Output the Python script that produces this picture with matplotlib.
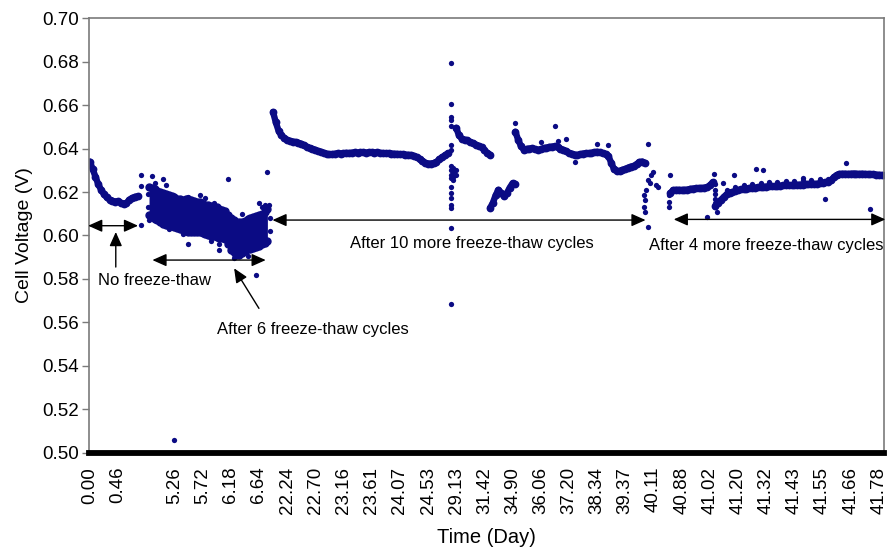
import numpy as np
import matplotlib
matplotlib.use("Agg")
import matplotlib.pyplot as plt

plt.rcParams["font.family"] = "Liberation Sans"

NAVY = "#0b0b84"

# x axis is a category axis: one position per logged sample, a label every 10th sample
x_labels = ["0.00", "0.46", "", "5.26", "5.72", "6.18", "6.64", "22.24", "22.70",
            "23.16", "23.61", "24.07", "24.53", "29.13", "31.42", "34.90", "36.06",
            "37.20", "38.34", "39.37", "40.11", "40.88", "41.02", "41.20", "41.32",
            "41.43", "41.55", "41.66", "41.78"]

# no freeze-thaw
seg1_start = 0
seg1_v = [0.6340, 0.6305, 0.6270, 0.6235, 0.6210, 0.6190, 0.6175, 0.6165, 0.6160,
          0.6155, 0.6158, 0.6150, 0.6145, 0.6148, 0.6165, 0.6172, 0.6178, 0.6180]

# after 6 cycles: dense noisy band, upper and lower edge of the cloud
seg2_start = 21
seg2_upper = [0.6224, 0.6220, 0.6212, 0.6206, 0.6200, 0.6196, 0.6192, 0.6186, 0.6180,
              0.6176, 0.6170, 0.6166, 0.6162, 0.6166, 0.6168, 0.6164, 0.6158, 0.6156,
              0.6152, 0.6146, 0.6142, 0.6138, 0.6136, 0.6132, 0.6130, 0.6124, 0.6118,
              0.6112, 0.6095, 0.6080, 0.6072, 0.6064, 0.6062, 0.6064, 0.6066, 0.6074,
              0.6080, 0.6084, 0.6090, 0.6096, 0.6100, 0.6108, 0.6120]
seg2_lower = [0.6094, 0.6086, 0.6078, 0.6070, 0.6062, 0.6054, 0.6048, 0.6044, 0.6042,
              0.6040, 0.6034, 0.6028, 0.6024, 0.6020, 0.6018, 0.6016, 0.6016, 0.6018,
              0.6016, 0.6010, 0.6006, 0.6002, 0.5998, 0.5996, 0.5994, 0.5990, 0.5988,
              0.5984, 0.5960, 0.5935, 0.5922, 0.5912, 0.5910, 0.5918, 0.5930, 0.5936,
              0.5940, 0.5944, 0.5948, 0.5952, 0.5960, 0.5966, 0.5975]

# after 10 more cycles
seg3_start = 65
seg3_v = [0.6568, 0.6520, 0.6480, 0.6460, 0.6448, 0.6440, 0.6435, 0.6432, 0.6430,
          0.6426, 0.6422, 0.6415, 0.6408, 0.6402, 0.6398, 0.6394, 0.6388, 0.6385,
          0.6380, 0.6376, 0.6373, 0.6374, 0.6376, 0.6378, 0.6377, 0.6378, 0.6380,
          0.6379, 0.6381, 0.6382, 0.6380, 0.6383, 0.6382, 0.6381, 0.6383, 0.6382,
          0.6381, 0.6383, 0.6380, 0.6379, 0.6378, 0.6378, 0.6377, 0.6376, 0.6375,
          0.6374, 0.6373, 0.6372, 0.6371, 0.6370, 0.6366, 0.6360, 0.6352, 0.6343,
          0.6335, 0.6331, 0.6331, 0.6333, 0.6338, 0.6350, 0.6360, 0.6368, 0.6378]
seg4_start = 130
seg4_v = [0.6495, 0.6460, 0.6445, 0.6440, 0.6438, 0.6430, 0.6424, 0.6418, 0.6412,
          0.6405, 0.6392, 0.6380, 0.6372]
seg5_start = 142
seg5_v = [0.6126, 0.6150, 0.6185, 0.6210, 0.6195, 0.6180, 0.6195, 0.6220, 0.6240, 0.6235]
seg6_start = 151
seg6_v = [0.6477, 0.6440, 0.6410, 0.6395, 0.6398, 0.6400, 0.6401, 0.6396, 0.6393,
          0.6397, 0.6401, 0.6404, 0.6407, 0.6409, 0.6410, 0.6408, 0.6400, 0.6394,
          0.6388, 0.6380, 0.6376, 0.6372, 0.6370, 0.6373, 0.6377, 0.6378, 0.6378,
          0.6380, 0.6383, 0.6385, 0.6382, 0.6378, 0.6375, 0.6365, 0.6335, 0.6305,
          0.6298, 0.6296, 0.6302, 0.6306, 0.6312, 0.6317, 0.6320, 0.6328, 0.6338,
          0.6340, 0.6334]

# after 4 more cycles
seg7_start = 206
seg7_v = [0.6195, 0.6209, 0.6210, 0.6210, 0.6209, 0.6210, 0.6211, 0.6214, 0.6216,
          0.6217, 0.6218, 0.6218, 0.6220, 0.6222, 0.6230, 0.6245]
seg8_start = 222
seg8_v = [0.6135, 0.6150, 0.6165, 0.6178, 0.6190, 0.6196, 0.6200, 0.6204, 0.6208,
          0.6212, 0.6214, 0.6216, 0.6218, 0.6218, 0.6220, 0.6222, 0.6222, 0.6224,
          0.6225, 0.6226, 0.6226, 0.6227, 0.6228, 0.6229, 0.6230, 0.6230, 0.6231,
          0.6232, 0.6232, 0.6233, 0.6234, 0.6234, 0.6235, 0.6236, 0.6237, 0.6237,
          0.6238, 0.6240, 0.6242, 0.6244, 0.6247, 0.6255, 0.6268, 0.6278, 0.6283,
          0.6284, 0.6284, 0.6283, 0.6284, 0.6285, 0.6284, 0.6283, 0.6284, 0.6283,
          0.6282, 0.6281, 0.6282, 0.6280, 0.6279, 0.6278, 0.6276]

# isolated readings (sample position, voltage)
pts_k = [18, 18, 18,
         22, 26, 27, 25, 35, 39, 41, 49, 63, 60, 59, 51, 35, 46, 46, 30, 23, 44, 54,
         61, 62, 56, 43, 28, 33, 20.5, 20.5, 21, 64, 64, 63.5,
         128, 128, 128, 128, 128, 128, 128, 128, 128, 128, 128, 128, 128, 128, 128,
         128, 128, 128, 129, 129, 129, 129, 130, 130,
         151, 160, 166, 165, 169, 180, 184, 172, 198,
         200, 199, 198, 198.6, 201, 201.5, 197.5, 196.6, 197, 196.6, 197, 198,
         205.5, 205.5, 205.5, 206,
         221.4, 228.5, 236.5, 239, 253, 268.5, 219, 261, 277, 224.7, 222.5,
         221.7, 221.7, 221.7, 221.7, 221.7, 221.7,
         226, 229, 232, 235, 238, 241, 244, 247, 250, 253, 256, 259, 262]
pts_v = [0.6280, 0.6228, 0.6050,
         0.6274, 0.6260, 0.6232, 0.6063, 0.6178, 0.6186, 0.6171, 0.6258, 0.6293,
         0.6148, 0.5818, 0.5895, 0.5961, 0.5961, 0.5933, 0.5060, 0.6240, 0.6150,
         0.6100, 0.6130, 0.6140, 0.5905, 0.5975, 0.6030, 0.6005, 0.6190, 0.6130,
         0.6070, 0.6080, 0.6020, 0.6140,
         0.6794, 0.6605, 0.6546, 0.6531, 0.6503, 0.6416, 0.6393, 0.6320, 0.6301,
         0.6278, 0.6263, 0.6224, 0.6194, 0.6171, 0.6140, 0.6125, 0.6033, 0.5685,
         0.6310, 0.6290, 0.6270, 0.6255, 0.6300, 0.6280,
         0.6519, 0.6432, 0.6436, 0.6503, 0.6442, 0.6419, 0.6416, 0.6340, 0.6421,
         0.6293, 0.6278, 0.6255, 0.6240, 0.6232, 0.6224, 0.6210, 0.6186, 0.6163,
         0.6133, 0.6110, 0.6040,
         0.6133, 0.6156, 0.6186, 0.6278,
         0.6283, 0.6277, 0.6306, 0.6301, 0.6266, 0.6332, 0.6087, 0.6166, 0.6120,
         0.6243, 0.6108,
         0.6235, 0.6210, 0.6190, 0.6170, 0.6150, 0.6130,
         0.6210, 0.6222, 0.6234, 0.6238, 0.6242, 0.6245, 0.6248, 0.6249, 0.6252,
         0.6254, 0.6256, 0.6258, 0.6262]

fig, ax = plt.subplots(figsize=(8.91, 5.51), dpi=100)
fig.subplots_adjust(left=0.0999, right=0.9921, top=0.9673, bottom=0.1779)

for start, vals in [(seg1_start, seg1_v), (seg3_start, seg3_v), (seg4_start, seg4_v),
                    (seg5_start, seg5_v), (seg6_start, seg6_v), (seg7_start, seg7_v),
                    (seg8_start, seg8_v)]:
    k = np.arange(start, start + len(vals))
    ax.plot(k, vals, color=NAVY, lw=4.6, marker="o", ms=4.6, solid_capstyle="round",
            solid_joinstyle="round")

k2 = np.arange(seg2_start, seg2_start + len(seg2_upper))
ax.fill_between(k2, seg2_lower, seg2_upper, color=NAVY, lw=0)
ax.plot(k2, seg2_upper, "o", color=NAVY, ms=5)
ax.plot(k2, seg2_lower, "o", color=NAVY, ms=5)

ax.plot(pts_k, pts_v, "o", color=NAVY, ms=3.8, mec="none")

ax.set_ylim(0.50, 0.70)
ax.set_xlim(-0.3, 281.8)
ax.set_yticks(np.arange(0.50, 0.7001, 0.02))
ax.yaxis.set_major_formatter(matplotlib.ticker.FormatStrFormatter("%.2f"))
ax.set_xticks(np.arange(0, 10 * len(x_labels), 10))
ax.set_xticklabels(x_labels, rotation=90)

for side in ["left", "top", "right"]:
    ax.spines[side].set_color("#7a7a7a")
    ax.spines[side].set_linewidth(1.2)
ax.spines["bottom"].set_color("black")
ax.spines["bottom"].set_linewidth(4.2)
ax.tick_params(axis="y", direction="out", length=5, width=1, color="#7a7a7a",
               labelsize=13.5, pad=2)
ax.tick_params(axis="x", length=0, labelsize=13.5, pad=10)

ax.set_ylabel("Cell Voltage (V)", fontsize=14, labelpad=7)
ax.set_xlabel("Time (Day)", fontsize=14.5, labelpad=10)

# spans and labels
dbl = dict(arrowstyle="<|-|>,head_length=0.85,head_width=0.38", color="black", lw=1,
           shrinkA=0, shrinkB=0, mutation_scale=10)
one = dict(arrowstyle="-|>,head_length=0.85,head_width=0.38", color="black", lw=1,
           shrinkA=0, shrinkB=0, mutation_scale=10)

ax.annotate("", xy=(17.1, 0.6045), xytext=(-0.6, 0.6045), arrowprops=dbl,
            annotation_clip=False)
ax.annotate("", xy=(9.2, 0.6016), xytext=(9.2, 0.5855), arrowprops=one)
ax.text(2.9, 0.5795, "No freeze-thaw", fontsize=12, ha="left", va="center")

ax.annotate("", xy=(62.4, 0.5887), xytext=(22.2, 0.5887), arrowprops=dbl)
ax.annotate("", xy=(51.2, 0.5849), xytext=(60, 0.5665), arrowprops=one)
ax.text(45, 0.5570, "After 6 freeze-thaw cycles", fontsize=12, ha="left", va="center")

ax.annotate("", xy=(197.2, 0.6071), xytext=(64.8, 0.6071), arrowprops=dbl)
ax.text(135.4, 0.5961, "After 10 more freeze-thaw cycles", fontsize=12, ha="center",
        va="center")

ax.annotate("", xy=(282.3, 0.6074), xytext=(207.2, 0.6074), arrowprops=dbl,
            annotation_clip=False)
ax.text(239.9, 0.5956, "After 4 more freeze-thaw cycles", fontsize=12, ha="center",
        va="center")

fig.savefig("out.png", dpi=100)
